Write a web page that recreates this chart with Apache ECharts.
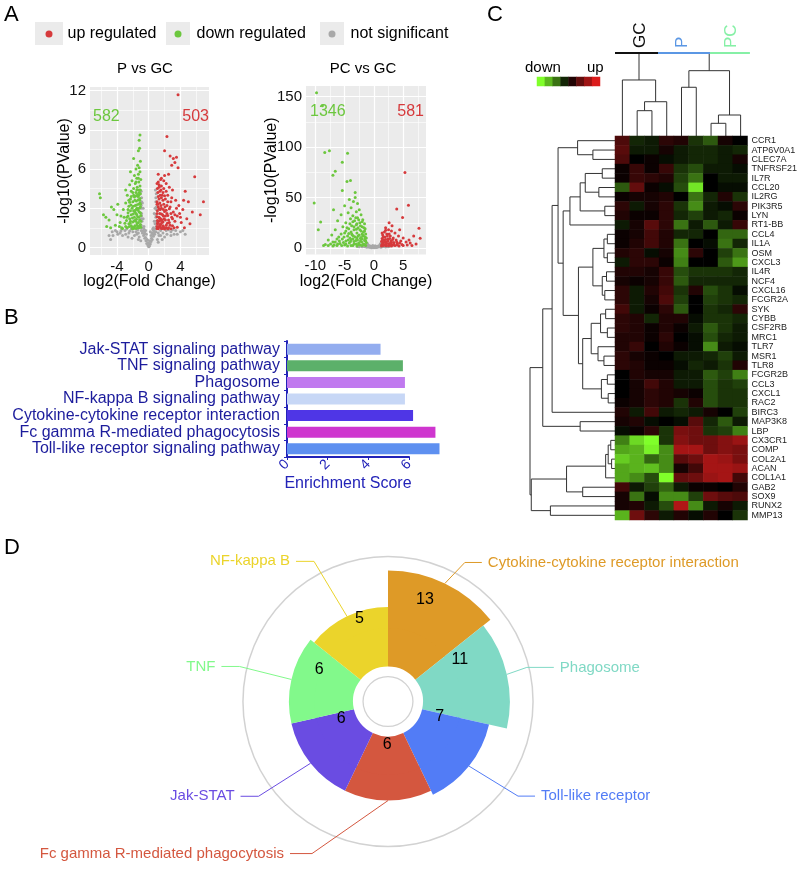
<!DOCTYPE html>
<html><head><meta charset="utf-8">
<script src="https://cdn.jsdelivr.net/npm/echarts@6.0.0/dist/echarts.min.js"></script>
<style>html,body{margin:0;padding:0;background:#fff}#c{width:800px;height:869px}</style>
</head><body><div id="c"></div>
<script>
// ---------------- Panel A: volcano plots ----------------
const volcanoLegend = ['up regulated', 'down regulated', 'not significant'];
const pVsGcUp = [[3.7,11.7],[2.3,8.5],[2.0,7.4],[2.7,7.0],[3.1,6.8],[3.5,6.9],[3.3,6.5],[2.9,6.3],[3.7,6.1],[5.8,5.4],[1.5,5.2],[1.9,5.1],[1.2,5.0],[2.2,4.9],[1.6,4.7],[2.6,4.6],[1.1,4.5],[3.0,4.4],[1.4,4.3],[1.8,4.2],[2.4,4.0],[4.6,4.3],[1.2,3.9],[1.6,3.8],[2.1,3.7],[3.4,3.6],[1.05,3.5],[2.8,3.5],[1.4,3.4],[1.9,3.3],[5.0,3.5],[6.9,3.5],[2.3,3.2],[1.2,3.1],[3.8,3.2],[1.6,3.0],[2.6,2.95],[4.3,2.9],[1.1,2.8],[2.0,2.75],[3.1,2.7],[1.4,2.6],[5.5,2.7],[6.5,2.5],[1.75,2.5],[2.4,2.45],[3.6,2.4],[1.05,2.35],[2.9,2.3],[1.5,2.2],[4.8,2.2],[2.1,2.1],[1.25,2.0],[3.3,2.0],[1.8,1.95],[2.6,1.9],[4.1,1.9],[1.1,1.8],[1.5,1.75],[2.2,1.7],[3.0,1.65],[5.2,1.8],[1.3,1.6],[1.9,1.55],[2.5,1.5],[3.6,1.55],[1.05,1.45],[1.6,1.45],[2.8,1.42],[4.5,1.5],[1.2,1.42],[2.0,1.4],[3.9,2.6],[4.4,3.6],[2.5,5.6],[1.3,4.8],[1.7,4.0],[1.15,3.3],[1.45,2.9],[1.85,2.4],[1.35,2.25],[1.65,1.9],[2.3,2.6],[2.7,3.1],[1.1,2.05],[1.25,1.55],
 [1.05,4.9],[1.3,4.6],[1.55,4.4],[1.9,4.5],[2.2,4.3],[1.15,4.2],[1.45,4.0],[2.0,3.95],[1.3,3.7],[1.8,3.6],[2.4,3.5],[1.05,3.3],[1.55,3.2],[2.05,3.1],[1.3,2.95],[1.85,2.9],[2.2,2.85],[1.05,2.6],[1.6,2.55],[2.1,2.4],[1.3,2.3],[1.95,2.2],[2.5,2.1],[1.4,2.05],[1.7,2.1],[1.15,1.9],[2.35,1.85],[1.4,1.75],[1.8,1.65],[2.7,1.7],[1.05,1.6],[1.5,1.55],[2.2,1.5],[3.2,1.5],[1.75,1.45],[2.4,1.42],[3.0,2.2],[3.3,2.5],[2.8,2.6],[4.0,2.3],[3.5,3.0],[2.9,3.8],[1.6,5.3],[1.2,5.6],[2.0,5.5]];
const pVsGcDown = [[-1.1,8.6],[-1.2,8.2],[-1.15,7.6],[-1.3,7.4],[-1.05,6.6],[-1.4,6.3],[-1.2,6.1],[-1.6,6.0],[-1.1,5.8],[-1.3,5.6],[-1.8,5.5],[-1.5,5.3],[-1.0,5.2],[-2.1,5.1],[-1.25,5.0],[-1.7,4.9],[-2.4,4.8],[-1.1,4.7],[-1.45,4.6],[-1.9,4.5],[-1.2,4.4],[-2.2,4.3],[-1.6,4.2],[-1.05,4.1],[-2.7,4.0],[-1.35,3.9],[-1.8,3.85],[-2.3,3.7],[-1.15,3.6],[-1.55,3.55],[-2.0,3.5],[-2.9,3.4],[-1.3,3.3],[-1.7,3.2],[-2.5,3.15],[-1.05,3.1],[-2.1,3.0],[-1.45,2.95],[-3.2,2.9],[-1.9,2.8],[-1.2,2.7],[-2.6,2.65],[-1.6,2.6],[-2.2,2.5],[-1.0,2.45],[-3.5,2.4],[-1.4,2.35],[-1.8,2.3],[-2.4,2.2],[-1.15,2.1],[-2.8,2.05],[-1.65,2.0],[-2.0,1.95],[-1.3,1.9],[-3.0,1.85],[-2.5,1.8],[-1.05,1.75],[-1.5,1.7],[-2.2,1.65],[-3.7,1.6],[-1.85,1.55],[-1.2,1.5],[-2.7,1.5],[-1.6,1.45],[-2.05,1.42],[-3.3,1.45],[-4.0,2.5],[-4.4,2.9],[-4.7,3.1],[-4.2,1.7],[-5.0,2.1],[-5.4,2.3],[-5.7,2.5],[-5.3,1.6],[-6.1,3.8],[-6.2,4.1],[-4.8,1.5],[-3.9,3.3],[-3.4,1.5],[-2.9,4.4],[-2.3,5.8],[-1.9,6.8],[-1.25,4.0],[-1.5,3.0],[-1.1,3.4],[-1.75,2.7],[-2.3,2.0],[-1.35,1.6],
 [-1.05,4.4],[-1.2,4.2],[-1.4,4.05],[-1.6,3.95],[-1.9,4.0],[-2.2,3.9],[-1.1,3.75],[-1.3,3.65],[-1.75,3.6],[-2.4,3.45],[-1.05,3.3],[-1.55,3.25],[-1.95,3.15],[-2.25,3.25],[-1.2,3.0],[-1.35,2.85],[-1.7,2.85],[-2.3,2.8],[-1.05,2.65],[-1.5,2.5],[-1.95,2.55],[-2.6,2.4],[-1.25,2.3],[-2.05,2.25],[-1.55,2.15],[-1.0,2.0],[-1.8,2.05],[-2.35,1.85],[-1.45,1.85],[-1.15,1.65],[-1.75,1.65],[-2.1,1.55],[-1.4,1.5],[-2.45,1.6],[-1.0,1.55],[-1.9,1.45],[-2.9,1.6],[-2.6,2.9],[-2.0,4.2],[-1.6,5.0],[-1.3,5.3],[-1.5,4.4],[-2.5,3.6],[-3.1,2.3],[-3.6,1.9],[-2.75,2.3]];
const pVsGcNS = [[0,0.05],[0.1,0.1],[-0.1,0.15],[0.2,0.25],[-0.25,0.3],[0.3,0.45],[-0.35,0.5],[0.45,0.6],[-0.5,0.7],[0.6,0.85],[-0.65,0.9],[0.75,1.0],[-0.8,1.1],[0.9,1.2],[-0.95,1.3],[0.5,1.4],[-0.6,1.6],[0.8,1.8],[-0.85,2.0],[0.9,2.3],[-0.9,2.6],[0.95,2.9],[-0.95,3.2],[0.9,3.5],[-0.9,3.8],[0.95,4.1],[-0.95,4.3],[0.7,2.6],[-0.7,3.0],[-1.5,1.0],[-2,1.2],[-2.5,1.1],[-3,1.3],[-3.5,1.25],[-4.0,1.2],[-4.5,0.9],[-4.8,0.6],[-1.2,0.8],[-1.8,0.9],[-2.6,0.8],[-3.3,0.9],[1.3,0.9],[1.8,1.1],[2.3,1.0],[2.8,1.2],[3.4,1.3],[4.0,1.2],[4.6,1.0],[1.5,1.3],[2.5,1.35],[-1.4,1.35],[-2.2,1.4],[0.3,0.9],[-0.3,1.0],[0.2,1.2],[-0.2,0.6],[1.1,0.6],[-1.0,0.5],[3.2,1.0],[-3.9,1.0],[0.6,1.3],[-0.5,1.2],[1.2,1.1],[-1.3,1.1],
 [0.05,0.3],[-0.05,0.35],[0.15,0.5],[-0.15,0.55],[0.35,0.7],[-0.4,0.75],[0.55,1.0],[-0.55,1.05],[0.7,1.2],[-0.75,1.25],[0.85,1.4],[-0.85,1.5],[0.95,1.6],[-0.95,1.7],[0.95,2.0],[-0.95,2.2],[0.9,2.5],[-0.9,2.4],[0.95,3.1],[-0.95,3.0],[0.9,3.8],[-0.9,3.5],[0.85,4.4],[1.5,0.9],[2.0,0.8],[2.8,0.9],[3.6,1.0],[4.3,1.3],[-1.6,1.2],[-2.4,1.25],[-2.9,1.0],[-3.6,1.1],[-4.2,1.3],[-4.6,1.2],[-5.0,0.9],[-1.3,0.6],[1.2,0.4],[1.7,0.6],[-2.1,0.7],[2.2,1.3],[3.0,1.35],[-2.8,1.4],[-3.4,1.4],[0.4,1.1],[-0.4,1.3],[0.6,1.5],[-0.6,1.4],[0.7,2.0],[-0.7,2.2],[0.8,3.0],[-0.8,3.4]];
const pVsGcCounts = [582, 503];
const pVsGcXTicks = [-4, 0, 4];
const pVsGcYTicks = [0, 3, 6, 9, 12];

const pcVsGcUp = [[5.3,74.7],[3.9,38.7],[5.9,42.3],[4.9,30.3],[7.7,19.7],[7.9,9.7],[6.8,12],[2.0,20],[2.5,18],[1.8,16],[3.0,17],[2.2,14],[3.6,15],[1.5,13],[2.8,12],[4.2,12],[1.9,11],[3.3,10],[1.4,9.5],[2.4,9],[5.0,10],[3.8,8],[1.7,8],[2.9,7],[4.6,7],[1.3,6.5],[2.1,6],[3.4,5.5],[5.5,6],[1.6,5],[2.6,4.5],[4.0,4.5],[6.2,5],[1.35,3.5],[2.0,3.5],[3.0,3],[4.8,3.5],[1.6,2.5],[2.5,2.2],[3.6,2.5],[5.7,3],[6.5,2.5],[1.3,2],[4.3,2],[7.2,4],[3.1,22],[2.6,25],[4.4,18],[6.0,8],
 [1.6,11],[2.3,12],[1.45,7.5],[2.0,8.5],[2.7,9.5],[3.2,8.5],[1.8,6],[2.4,7],[3.0,6],[3.9,6],[1.5,4],[2.2,4.5],[2.9,5],[3.4,4],[4.4,5],[1.8,3],[2.6,3],[3.3,3],[4.0,3],[5.0,2.5],[2.1,2.2],[3.0,2],[1.4,15],[2.6,14],[2.0,17.5]];
const pcVsGcDown = [[-9.8,153.7],[-8.8,141],[-8.4,94.7],[-7.6,96.3],[-4.5,94],[-5.4,85],[-6.6,76],[-7.0,72],[-4.6,66],[-4.0,67],[-5.4,57],[-10.2,44.7],[-9.1,25.7],[-3.2,50],[-3.5,46],[-4.2,48],[-2.8,44],[-3.9,40],[-5.0,42],[-2.5,38],[-3.0,36],[-4.4,35],[-2.2,33],[-3.6,32],[-5.6,33],[-2.8,30],[-4.0,29],[-1.9,28],[-3.3,27],[-6.2,27],[-2.4,25],[-4.8,25],[-1.6,24],[-3.0,23],[-3.8,22],[-2.0,21],[-5.3,21],[-2.7,20],[-1.5,19],[-4.3,19],[-3.4,18],[-6.6,18],[-2.2,17],[-1.8,16],[-2.9,15],[-5.0,15],[-3.8,14],[-1.4,14],[-2.5,13],[-7.2,13],[-4.5,12],[-1.9,12],[-3.2,11],[-6.0,11],[-1.3,10],[-2.3,9.5],[-5.4,9],[-3.9,8.5],[-2.8,8],[-7.8,8],[-1.6,7.5],[-4.8,7],[-3.4,6.5],[-2.1,6],[-6.6,6],[-1.3,5.5],[-2.6,5],[-4.2,5],[-5.8,4.5],[-3.0,4],[-1.8,4],[-7.4,4],[-8.3,3.5],[-5.0,3],[-2.3,3],[-3.6,2.5],[-6.3,2.5],[-1.4,2.5],[-4.5,2],[-2.9,2],[-7.0,2],[-3.2,55],[-6.9,38],[-9.5,18],
 [-2.0,26],[-2.6,28],[-3.1,30],[-3.6,26],[-4.1,24],[-2.3,22],[-2.9,24],[-3.4,21],[-4.6,20],[-1.7,20],[-2.4,18],[-3.9,16],[-4.8,17],[-5.6,14],[-1.6,17],[-2.0,14],[-2.7,12],[-3.5,12],[-4.1,10],[-5.1,11],[-6.3,9],[-1.5,11],[-2.0,9],[-2.9,10],[-3.6,9],[-4.4,8],[-5.9,7],[-7.0,6],[-1.4,7],[-2.3,7],[-3.1,7.5],[-4.0,6.5],[-5.2,5.5],[-6.2,4],[-1.6,3.5],[-2.6,3.5],[-3.4,4],[-4.8,4],[-5.5,2.5],[-6.8,3],[-7.8,2.5],[-8.6,2.5],[-2.0,2.5],[-3.9,2.5],[-1.5,9],[-1.8,12.5],[-2.2,10.5],[-3.0,18.5],[-3.7,13],[-4.3,14.5]];
const pcVsGcNS = [[0,0.5],[0.3,1],[-0.3,1.2],[0.6,1.8],[-0.6,2],[0.9,2.6],[-0.9,2.8],[1.2,3.3],[-1.2,3.6],[0.5,0.8],[-0.5,0.9],[-1.5,1.2],[-2.0,1.3],[1.5,1.2],[2.0,1.0],[-1.0,1.5],[1.0,1.4],[0.2,2.2],[-0.2,2.5],[1.1,4.2],[-1.1,4.5],[-2.5,1.4],[2.4,1.2],[0.8,1.2],[-0.8,0.7],
 [0.1,0.3],[-0.1,0.6],[0.4,0.5],[-0.4,0.4],[0.7,1.0],[-0.7,1.1],[1.0,2.0],[-1.0,2.2],[1.3,2.8],[-1.3,3.0],[0.5,1.5],[-0.5,1.6],[1.8,1.6],[-1.8,1.8],[2.6,1.5],[-2.8,1.6],[1.2,0.8],[-1.2,0.9]];
const pcVsGcCounts = [1346, 581];
const pcVsGcXTicks = [-10, -5, 0, 5];
const pcVsGcYTicks = [0, 50, 100, 150];

// ---------------- Panel B: enrichment bars ----------------
const pathways = ['Jak-STAT signaling pathway', 'TNF signaling pathway', 'Phagosome', 'NF-kappa B signaling pathway', 'Cytokine-cytokine receptor interaction', 'Fc gamma R-mediated phagocytosis', 'Toll-like receptor signaling pathway'];
const enrichment = [4.6, 5.7, 5.8, 5.8, 6.2, 7.3, 7.5];
const enrichTicks = [0, 2, 4, 6];

// ---------------- Panel C: heatmap ----------------
const samples = ['S1','S2','S3','S4','S5','S6','S7','S8','S9'];
const groups = ['GC', 'P', 'PC'];
const genes = ['CCR1','ATP6V0A1','CLEC7A','TNFRSF21','IL7R','CCL20','IL2RG','PIK3R5','LYN','RT1-BB','CCL4','IL1A','OSM','CXCL3','IL4R','NCF4','CXCL16','FCGR2A','SYK','CYBB','CSF2RB','MRC1','TLR7','MSR1','TLR8','FCGR2B','CCL3','CXCL1','RAC2','BIRC3','MAP3K8','LBP','CX3CR1','COMP','COL2A1','ACAN','COL1A1','GAB2','SOX9','RUNX2','MMP13'];
const expr = [
 [0.35,-0.15,-0.1,0.2,0.15,-0.2,-0.35,0.1,0],
 [0.4,-0.1,-0.1,0.1,-0.1,-0.15,-0.15,-0.1,-0.15],
 [0.35,0,0.05,-0.05,-0.1,-0.15,-0.15,-0.1,0.1],
 [0.05,0.25,0.05,0.25,-0.2,-0.3,-0.1,-0.1,-0.05],
 [0.05,0.25,0.2,0.15,-0.25,-0.45,0,-0.1,-0.1],
 [-0.35,0.45,0.05,-0.05,-0.3,-0.9,0,-0.05,-0.05],
 [0.05,0.1,0.1,0.15,0,-0.45,-0.15,0.15,-0.2],
 [0.2,-0.1,0.1,0.2,-0.2,-0.55,-0.1,-0.05,0.2],
 [0.15,0.05,0.05,0.2,-0.15,-0.25,-0.1,-0.15,0.05],
 [-0.1,0.1,0.4,0.2,-0.45,-0.1,-0.35,-0.1,0.25],
 [0.05,0.1,0.3,0.15,-0.15,-0.15,0,-0.4,-0.4],
 [0.05,0.15,0.3,0.15,-0.45,0,-0.05,-0.45,-0.15],
 [0.15,0.2,-0.05,0.1,-0.55,0.2,0,-0.25,-0.45],
 [-0.1,0.2,0.2,0.05,-0.5,0,0,-0.35,-0.6],
 [0.15,0.15,0.1,0.25,-0.3,-0.2,-0.2,-0.2,-0.15],
 [0.1,0.05,0.1,0.25,-0.35,-0.15,-0.15,-0.15,-0.15],
 [0.2,-0.1,0.15,0.3,-0.2,0.15,-0.3,-0.2,-0.05],
 [0.2,-0.1,0.1,0.35,-0.25,0,-0.25,-0.2,-0.15],
 [0.3,-0.1,0.05,0.2,-0.35,0,-0.2,-0.15,0.2],
 [0.2,0.15,-0.15,0.15,0.15,-0.05,-0.2,-0.2,-0.15],
 [0.2,0.15,0.05,0.15,0.05,-0.1,-0.35,-0.2,-0.1],
 [0.15,0.15,0.05,0.2,0,-0.05,-0.3,-0.15,-0.1],
 [0.15,0.25,0,0.15,0.05,-0.05,-0.55,-0.1,-0.05],
 [0.2,0.1,0.05,0,-0.1,-0.1,-0.15,-0.25,-0.1],
 [0.2,0.15,0.05,0.05,-0.05,-0.15,-0.1,-0.2,0.15],
 [0,0.15,0.1,0.1,-0.1,-0.1,-0.35,-0.25,-0.5],
 [0,0.1,0.3,0.15,-0.1,-0.1,-0.3,-0.2,-0.25],
 [0,0.1,0.2,0.15,0.1,0.05,-0.3,-0.2,-0.2],
 [0.05,0.1,0.2,0.15,-0.2,0.15,-0.3,-0.2,-0.2],
 [0.15,-0.1,0.3,-0.1,-0.15,-0.1,0.1,0,-0.25],
 [0.1,0.15,-0.05,0,-0.05,0.4,-0.15,-0.35,-0.1],
 [-0.05,0.05,0.2,-0.2,0.55,0.5,-0.2,-0.25,-0.5],
 [-0.5,-0.85,-1.0,-0.2,0.6,0.5,0.5,0.6,0.7],
 [-0.65,-0.7,-0.95,-0.55,0.75,0.75,0.5,0.6,0.55],
 [-0.8,-0.7,-0.4,-0.55,0.4,0.5,0.75,0.7,0.55],
 [-0.65,-0.7,-0.75,-0.55,0.1,0.3,0.75,0.75,0.7],
 [-0.65,-0.55,-0.3,-1.0,0.45,0.5,0.7,0.75,0.3],
 [0.3,-0.1,-0.25,-0.4,-0.1,0.05,0.05,0,0.15],
 [0.1,-0.45,-0.05,-0.55,-0.55,-0.25,0.5,0.4,0.35],
 [0.1,0.15,-0.1,-0.3,0.8,-0.55,-0.1,0.1,-0.1],
 [-0.7,0.5,0.2,-0.1,0.15,-0.05,0.15,0,-0.2]
];
// hclust-style merge tables: negative = leaf (1-based), positive = earlier merge; third value = height
const rowMerge = [
 [-2,-3,2.6],[-1,1,4.4],
 [-4,-5,1.5],[-6,-7,1.9],[3,4,3.5],[-8,-9,1.2],[5,6,4.1],[7,-10,5.3],
 [-11,-12,0.9],[-13,-14,0.9],[9,10,1.3],[-15,-16,1.0],[-17,-18,1.2],[12,13,1.5],[11,14,2.6],
 [-19,-20,1.1],[-21,-22,0.9],[16,17,1.7],[-24,-25,1.3],[-23,19,2.0],[18,20,2.8],[-26,-27,0.9],[-28,-29,0.8],[22,23,1.6],[21,24,3.8],
 [15,25,4.3],[8,26,6.1],[2,27,6.7],[28,-30,7.4],[-31,-32,4.1],[29,30,8.5],
 [-33,-34,0.5],[-35,-36,0.4],[32,33,0.8],[34,-37,1.1],[-38,-39,3.8],[35,36,5.7],[-40,-41,7.6],[37,38,9.85],[31,39,10]
];
const colMerge = [[-2,-3,3.05],[1,-4,4.13],[-1,2,6.75],[-5,-6,5.87],[-7,-8,1.53],[5,-9,2.53],[4,6,7.87],[3,7,10]];
const groupSpan = [[-0.5, 2.41], [2.41, 5.93], [5.93, 8.63]];
const keyLevels = [-1, -0.72, -0.45, -0.15, 0.15, 0.45, 0.72, 1];

// ---------------- Panel D: rose ----------------
const roseNames = ['Cytokine-cytokine receptor interaction', 'Phagosome', 'Toll-like receptor', 'Fc gamma R-mediated phagocytosis', 'Jak-STAT', 'TNF', 'NF-kappa B'];
const roseCounts = [13, 11, 7, 6, 6, 6, 5];

// ================= styles =================
const FONT = "'Liberation Sans', Arial, Helvetica, sans-serif";
const C_UP = '#d63a3c', C_DOWN = '#6cc73e', C_NS = '#a8a8a8';
const barColors = ['#93adef', '#5cb06a', '#c079ef', '#c7d7f6', '#4f36e6', '#cf36cf', '#5e90f0'];
const roseColors = ['#de9a27', '#80d9c5', '#527cf6', '#d4573f', '#6a4ce2', '#82f98b', '#ebd42b'];
const groupColors = ['#111111', '#5b97e4', '#86f0a6'];
const roseCenter = [388, 701.5];
const numberLabelPolar = [[108,20],[83,60],[54,106.6],[43.5,181],[50,249.6],[76,295],[88,341]];
const outerLead = [[20,-21,17],[20,-7,27],[49,30,17],[-76,53,22],[-52,33,18],[-52,-13,18],[-33,-55,18]];

function gridLines(xMajor, xMinor, yMajor, yMinor) {
  const d = [];
  xMinor.forEach(v => d.push({ xAxis: v, lineStyle: { width: 0.6 } }));
  yMinor.forEach(v => d.push({ yAxis: v, lineStyle: { width: 0.6 } }));
  xMajor.forEach(v => d.push({ xAxis: v, lineStyle: { width: 1.2 } }));
  yMajor.forEach(v => d.push({ yAxis: v, lineStyle: { width: 1.2 } }));
  return { silent: true, z: 1, symbol: ['none', 'none'], label: { show: false }, lineStyle: { color: '#ffffff', type: 'solid' }, data: d };
}
function volcanoAxes(gi, xr, yr, xt, yt, nameGapY) {
  const lab = { color: '#111', fontSize: 15, fontFamily: FONT };
  return {
    x: { gridIndex: gi, type: 'value', min: xr[0], max: xr[1], axisLine: { show: false }, splitLine: { show: false },
      axisTick: { show: true, length: 3, lineStyle: { color: '#333' }, customValues: xt },
      axisLabel: Object.assign({ customValues: xt, margin: 4 }, lab),
      name: 'log2(Fold Change)', nameLocation: 'middle', nameGap: 19, nameMoveOverlap: false, nameTextStyle: { fontSize: 16, color: '#000', fontFamily: FONT } },
    y: { gridIndex: gi, type: 'value', min: yr[0], max: yr[1], axisLine: { show: false }, splitLine: { show: false },
      axisTick: { show: true, length: 3, lineStyle: { color: '#333' }, customValues: yt },
      axisLabel: Object.assign({ customValues: yt, margin: 4 }, lab),
      name: '-log10(PValue)', nameLocation: 'middle', nameGap: nameGapY, nameMoveOverlap: false, nameTextStyle: { fontSize: 16, color: '#000', fontFamily: FONT } }
  };
}
function dendroLines(merge, horizontal) {
  const pos = [], ht = [], out = [];
  merge.forEach(([a, b, h], k) => {
    const pa = a < 0 ? -a - 1 : pos[a - 1], ha = a < 0 ? 0 : ht[a - 1];
    const pb = b < 0 ? -b - 1 : pos[b - 1], hb = b < 0 ? 0 : ht[b - 1];
    const pts = [[pa, ha], [pa, h], [pb, h], [pb, hb]];
    out.push({ coords: horizontal ? pts.map(p => [p[1], p[0]]) : pts });
    pos[k] = (pa + pb) / 2; ht[k] = h;
  });
  return out;
}

const grid = [
  { left: 90, top: 87, width: 119, height: 168, backgroundColor: '#ebebeb', show: true, borderWidth: 0 },
  { left: 306, top: 86, width: 120, height: 168.5, backgroundColor: '#ebebeb', show: true, borderWidth: 0 },
  { left: 287, top: 341, width: 122, height: 116 },
  { left: 615, top: 53, width: 133, height: 83 },
  { left: 530, top: 136, width: 85, height: 384 },
  { left: 615, top: 136, width: 133, height: 384 },
  { left: 537, top: 77, width: 63, height: 9 }
];
const va1 = volcanoAxes(0, [-7.4, 7.6], [-0.585, 12.285], pVsGcXTicks, pVsGcYTicks, 17);
const va2 = volcanoAxes(1, [-11.6, 8.9], [-6.4, 160.5], pcVsGcXTicks, pcVsGcYTicks, 26);
const hidden = { axisLine: { show: false }, axisTick: { show: false }, axisLabel: { show: false }, splitLine: { show: false } };
const blue = '#2323b8';
const xAxis = [
  va1.x, va2.x,
  { gridIndex: 2, type: 'value', min: 0, max: 6, interval: 2, splitLine: { show: false },
    axisLine: { show: true, lineStyle: { color: blue, width: 2 } }, axisTick: { show: true, length: 3, lineStyle: { color: blue } },
    axisLabel: { color: blue, fontSize: 14, rotate: 45, margin: 5, fontFamily: FONT },
    name: 'Enrichment Score', nameLocation: 'middle', nameGap: 18, nameTextStyle: { color: blue, fontSize: 16, fontFamily: FONT } },
  Object.assign({ gridIndex: 3, type: 'value', min: -0.5, max: 8.5 }, hidden),
  Object.assign({ gridIndex: 4, type: 'value', min: 0, max: 10, inverse: true }, hidden),
  Object.assign({ gridIndex: 5, type: 'category', data: samples }, hidden),
  Object.assign({ gridIndex: 6, type: 'category', data: keyLevels.map(String) }, hidden)
];
const yAxis = [
  va1.y, va2.y,
  { gridIndex: 2, type: 'category', data: pathways, inverse: true,
    axisLine: { show: true, lineStyle: { color: blue, width: 2 } }, axisTick: { show: true, length: 3, lineStyle: { color: blue } },
    axisLabel: { interval: 0, color: '#1c1c9c', fontSize: 16, margin: 7, fontFamily: FONT } },
  Object.assign({ gridIndex: 3, type: 'value', min: 0, max: 10 }, hidden),
  Object.assign({ gridIndex: 4, type: 'value', min: -0.5, max: 40.5, inverse: true }, hidden),
  { gridIndex: 5, type: 'category', data: genes, inverse: true, position: 'right', axisLine: { show: false }, axisTick: { show: false },
    splitLine: { show: false }, axisLabel: { interval: 0, fontSize: 9, color: '#222', margin: 4, fontFamily: FONT } },
  Object.assign({ gridIndex: 6, type: 'category', data: ['key'] }, hidden)
];

const series = [];
function scat(name, data, color, xi, extra) {
  series.push(Object.assign({ type: 'scatter', name, data, xAxisIndex: xi, yAxisIndex: xi, symbolSize: 3, z: 3,
    itemStyle: { color, opacity: 1 }, silent: true }, extra || {}));
}
scat('not significant', pVsGcNS, C_NS, 0, { markLine: gridLines([-4, 0, 4], [-6, -2, 2, 6], [0, 3, 6, 9, 12], [1.5, 4.5, 7.5, 10.5]) });
scat('down regulated', pVsGcDown, C_DOWN, 0);
scat('up regulated', pVsGcUp, C_UP, 0);
scat('not significant', pcVsGcNS, C_NS, 1, { markLine: gridLines([-10, -5, 0, 5], [-7.5, -2.5, 2.5, 7.5], [0, 50, 100, 150], [25, 75, 125]) });
scat('down regulated', pcVsGcDown, C_DOWN, 1);
scat('up regulated', pcVsGcUp, C_UP, 1);

series.push({ type: 'bar', xAxisIndex: 2, yAxisIndex: 2, barWidth: 11, clip: false, silent: true,
  data: enrichment.map((v, i) => ({ value: v, itemStyle: { color: barColors[i] } })) });

series.push({ type: 'lines', coordinateSystem: 'cartesian2d', xAxisIndex: 3, yAxisIndex: 3, polyline: true, silent: true, clip: false,
  lineStyle: { color: '#333', width: 1, opacity: 1 }, data: dendroLines(colMerge, false) });
series.push({ type: 'lines', coordinateSystem: 'cartesian2d', xAxisIndex: 3, yAxisIndex: 3, silent: true, clip: false, z: 4,
  data: groupSpan.map((s, i) => ({ coords: [[s[0], 10], [s[1], 10]], lineStyle: { color: groupColors[i], width: 2, opacity: 1 } })) });
series.push({ type: 'lines', coordinateSystem: 'cartesian2d', xAxisIndex: 4, yAxisIndex: 4, polyline: true, silent: true, clip: false,
  lineStyle: { color: '#333', width: 1, opacity: 1 }, data: dendroLines(rowMerge, true) });
const heatIdx = series.length;
const heatData = [];
expr.forEach((row, r) => row.forEach((v, c) => heatData.push([c, r, v])));
series.push({ type: 'heatmap', xAxisIndex: 5, yAxisIndex: 5, data: heatData, silent: true, itemStyle: { borderWidth: 0 } });
const keyIdx = series.length;
series.push({ type: 'heatmap', xAxisIndex: 6, yAxisIndex: 6, data: keyLevels.map((v, i) => [i, 0, v]), silent: true });

// Panel D
const RING = { type: 'pie', center: roseCenter, silent: true, label: { show: false }, labelLine: { show: false }, emphasis: { disabled: true } };
series.push(Object.assign({}, RING, { radius: [144.3, 145.8], data: [{ value: 1, itemStyle: { color: '#d2d2d2' } }] }));
series.push(Object.assign({}, RING, { radius: [24.3, 25.6], data: [{ value: 1, itemStyle: { color: '#d2d2d2' } }] }));
series.push({ type: 'pie', roseType: 'area', center: roseCenter, radius: [71.7, 131], startAngle: 90, clockwise: true, silent: true,
  emphasis: { disabled: true }, avoidLabelOverlap: false, z: 3,
  data: roseNames.map((n, i) => ({ name: n, value: roseCounts[i], itemStyle: { color: roseColors[i] },
    label: { color: roseColors[i] }, labelLine: { lineStyle: { color: roseColors[i] } } })),
  label: { show: true, position: 'outside', formatter: '{b}', fontSize: 15, fontFamily: FONT },
  labelLine: { show: true, length: 10, length2: 10, lineStyle: { width: 1 } },
  labelLayout: p => {
    const s = outerLead[p.dataIndex], p0 = p.labelLinePoints[0];
    const p1 = [p0[0] + s[0], p0[1] + s[1]], left = s[0] < 0;
    const p2 = [p1[0] + (left ? -s[2] : s[2]), p1[1]];
    return { x: p2[0] + (left ? -6 : 6), y: p2[1], align: left ? 'right' : 'left', verticalAlign: 'middle', labelLinePoints: [p0, p1, p2] };
  }
});
series.push({ type: 'pie', center: roseCenter, radius: [35, 73.5], startAngle: 90, clockwise: true, silent: true, emphasis: { disabled: true }, z: 5,
  data: roseNames.map((n, i) => ({ name: n, value: 1, itemStyle: { color: roseColors[i] } })),
  label: { show: true, position: 'inside', formatter: p => String(roseCounts[p.dataIndex]), color: '#000', fontSize: 16, fontFamily: FONT },
  labelLine: { show: false },
  labelLayout: p => { const q = numberLabelPolar[p.dataIndex], a = q[1] * Math.PI / 180;
    return { x: roseCenter[0] + q[0] * Math.sin(a), y: roseCenter[1] - q[0] * Math.cos(a), align: 'center', verticalAlign: 'middle' }; }
});

const T = (text, x, y, o) => ({ type: 'text', x, y, silent: true, z: 10, style: Object.assign({ text, fontFamily: FONT, fontSize: 16, fill: '#000', align: 'left', verticalAlign: 'middle' }, o || {}) });
const graphic = [
  T('A', 4, 15, { fontSize: 22 }), T('B', 4, 318, { fontSize: 22 }), T('C', 487, 15, { fontSize: 22 }), T('D', 4, 548, { fontSize: 22 }),
  { type: 'rect', shape: { x: 35, y: 22, width: 28, height: 23 }, style: { fill: '#ebebeb' }, silent: true, z: -1 },
  { type: 'rect', shape: { x: 166, y: 22, width: 24, height: 23 }, style: { fill: '#ebebeb' }, silent: true, z: -1 },
  { type: 'rect', shape: { x: 320, y: 22, width: 24, height: 23 }, style: { fill: '#ebebeb' }, silent: true, z: -1 },
  T('P vs GC', 145, 68.5, { align: 'center', fontSize: 15 }), T('PC vs GC', 363, 68.5, { align: 'center', fontSize: 15 }),
  T(String(pVsGcCounts[0]), 93, 116.5, { fill: C_DOWN }), T(String(pVsGcCounts[1]), 209, 116.5, { fill: C_UP, align: 'right' }),
  T(String(pcVsGcCounts[0]), 310, 112, { fill: C_DOWN }), T(String(pcVsGcCounts[1]), 424, 112, { fill: C_UP, align: 'right' }),
  T('down', 525, 67.5, { fontSize: 15 }), T('up', 587, 67.5, { fontSize: 15 }),
  T(groups[0], 640, 48, { fontSize: 17, fill: groupColors[0] }),
  T(groups[1], 682, 48, { fontSize: 17, fill: groupColors[1] }),
  T(groups[2], 731, 48, { fontSize: 17, fill: groupColors[2] })
];
graphic.slice(-3).forEach(g => { g.rotation = Math.PI / 2; });

const legendBase = { top: 21, itemWidth: 7, itemHeight: 7, icon: 'circle', selectedMode: false, textStyle: { fontSize: 16, color: '#000', fontFamily: FONT, padding: [0, 0, 0, 10] } };
const option = {
  animation: false,
  backgroundColor: '#fff',
  textStyle: { fontFamily: FONT },
  grid, xAxis, yAxis, series, graphic,
  legend: [
    Object.assign({ left: 40.5, data: [volcanoLegend[0]] }, legendBase),
    Object.assign({ left: 169.5, data: [volcanoLegend[1]] }, legendBase),
    Object.assign({ left: 323.5, data: [volcanoLegend[2]] }, legendBase)
  ],
  visualMap: { type: 'continuous', show: false, min: -1, max: 1, dimension: 2, seriesIndex: [heatIdx, keyIdx], inRange: { color: ['#80ff2a', '#000000', '#dc1c1c'] } }
};
const chart = echarts.init(document.getElementById('c'), null, { renderer: 'canvas' });
chart.setOption(option);
</script></body></html>
